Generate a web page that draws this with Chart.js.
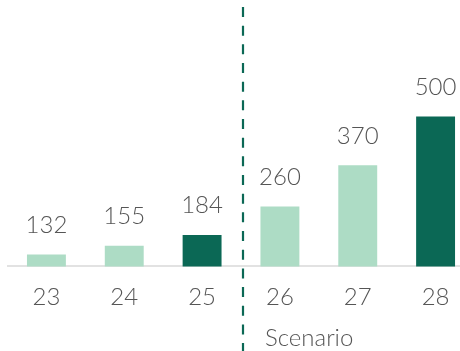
<!DOCTYPE html>
<html>
<head>
<meta charset="utf-8">
<script src="https://cdn.jsdelivr.net/npm/chart.js@4.4.0/dist/chart.umd.min.js"></script>
<style>
  html, body { margin: 0; padding: 0; background: #fff; overflow: hidden; }
  #wrap { position: relative; width: 476px; height: 351px; }
</style>
</head>
<body>
<div id="wrap"><canvas id="c"></canvas></div>
<script>
const categories = ['23', '24', '25', '26', '27', '28'];
const values = [132, 155, 184, 260, 370, 500];
const highlighted = [false, false, true, false, false, true];
const scenarioLabel = 'Scenario';
const scenarioStartIndex = 3;

const LIGHT = '#addcc5';
const DARK = '#0b6855';
const TEXT = '#555555';
const FONT = 'Lato, "Open Sans", sans-serif';

const overlayPlugin = {
  id: 'overlay',
  afterDatasetsDraw(chart) {
    const ctx = chart.ctx;
    const meta = chart.getDatasetMeta(0);
    const xs = chart.scales.x;
    ctx.save();
    // value labels
    ctx.fillStyle = TEXT;
    ctx.font = '300 24px ' + FONT;
    ctx.textAlign = 'center';
    ctx.textBaseline = 'alphabetic';
    meta.data.forEach((bar, i) => {
      ctx.fillText(String(values[i]), bar.x, bar.y - 21.5);
    });
    // dashed divider between historic and scenario
    const xDiv = (xs.getPixelForValue(scenarioStartIndex - 1) + xs.getPixelForValue(scenarioStartIndex)) / 2 + 2;
    ctx.strokeStyle = DARK;
    ctx.lineWidth = 2.2;
    ctx.setLineDash([10, 8.67]);
    ctx.beginPath();
    ctx.moveTo(xDiv, 7);
    ctx.lineTo(xDiv, chart.height);
    ctx.stroke();
    ctx.setLineDash([]);
    // scenario label
    ctx.textAlign = 'left';
    ctx.fillText(scenarioLabel, xDiv + 22, 346);
    ctx.restore();
  }
};

new Chart(document.getElementById('c'), {
  type: 'bar',
  data: {
    labels: categories,
    datasets: [{
      data: values,
      backgroundColor: highlighted.map(h => h ? DARK : LIGHT),
      borderWidth: 0,
      barPercentage: 0.5,
      categoryPercentage: 1.0
    }]
  },
  options: {
    responsive: true,
    maintainAspectRatio: false,
    animation: false,
    layout: { padding: { left: 7.5, right: 1.5, top: 4, bottom: 22.8 } },
    plugins: { legend: { display: false }, tooltip: { enabled: false } },
    scales: {
      x: {
        grid: { display: false, drawTicks: false },
        border: { display: true, color: '#e2e2e2', width: 2 },
        ticks: { color: TEXT, font: { family: FONT, size: 24, weight: 300 }, padding: 16.5 }
      },
      y: {
        display: false,
        min: 100,
        max: 800
      }
    }
  },
  plugins: [overlayPlugin]
});
</script>
</body>
</html>
